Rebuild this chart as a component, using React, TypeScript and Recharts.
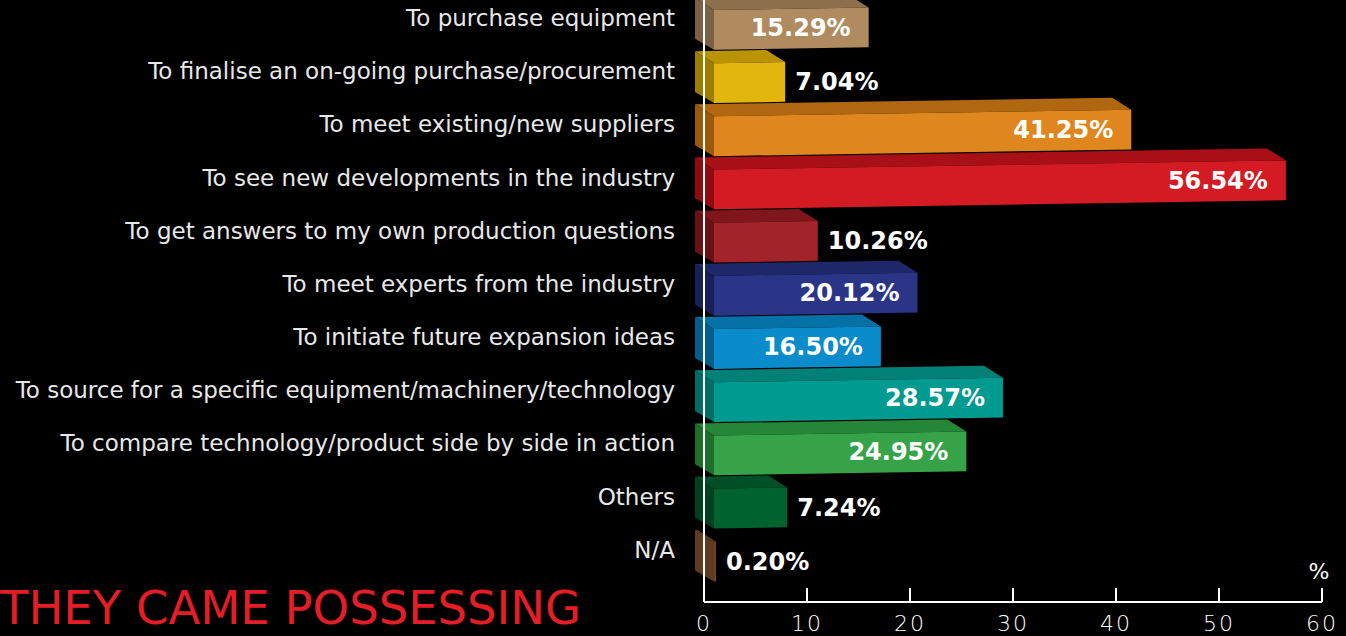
import React from 'react';
import { BarChart, Bar, XAxis, YAxis, LabelList } from 'recharts';

const categories = [
  'To purchase equipment',
  'To finalise an on-going purchase/procurement',
  'To meet existing/new suppliers',
  'To see new developments in the industry',
  'To get answers to my own production questions',
  'To meet experts from the industry',
  'To initiate future expansion ideas',
  'To source for a specific equipment/machinery/technology',
  'To compare technology/product side by side in action',
  'Others',
  'N/A',
];
const values = [15.29, 7.04, 41.25, 56.54, 10.26, 20.12, 16.5, 28.57, 24.95, 7.24, 0.2];
const frontColors = ['#b08b60', '#e3b60d', '#e0861e', '#d41b23', '#a2232a', '#2b3587', '#0a8bcb', '#009b90', '#36a348', '#00622f', '#6b4424'];
const topColors = ['#8d6f4d', '#b99400', '#b0670f', '#a90f16', '#7e161b', '#1f276b', '#0571a6', '#008077', '#248636', '#004f26', '#6b4424'];
const sideColors = ['#7a6146', '#9c7d00', '#9a590b', '#8f0b11', '#6a1115', '#191f59', '#045e8b', '#006c64', '#1c702a', '#00421f', '#5e3b1e'];
const xTicks = [0, 10, 20, 30, 40, 50, 60];

const data = categories.map((name, i) => ({ name, value: values[i], idx: i }));

const DX_BACK = 9;
const DX_FRONT = 10;
const DEPTH = 12;
const TILT = 0.016;
const WSCALE = 0.982;

const Bar3D = (props: any) => {
  const { x, y, width, height, payload } = props;
  const i = payload.idx;
  const w = Math.max(0, width * WSCALE);
  const t = w * TILT;
  const bx = x - DX_BACK;
  const fx = x + DX_FRONT;
  const bottom = y + height - 1.2;
  const ft = y + DEPTH;
  return (
    <g>
      <polygon
        points={`${bx},${y} ${bx + w},${y - t} ${fx + w},${ft - t} ${fx},${ft}`}
        fill={topColors[i]}
      />
      <polygon
        points={`${bx},${y} ${fx},${ft} ${fx},${bottom} ${bx},${bottom - DEPTH + 1}`}
        fill={sideColors[i]}
      />
      <polygon
        points={`${fx},${ft} ${fx + w},${ft - t} ${fx + w},${bottom - t} ${fx},${bottom}`}
        fill={frontColors[i]}
      />
    </g>
  );
};

const ValueLabel = (props: any) => {
  const { x, y, width, height, value } = props;
  const w = Math.max(0, width * WSCALE);
  const t = w * TILT;
  const fx = x + DX_FRONT;
  const ft = y + DEPTH;
  const bottom = y + height - 1.2;
  const cy = (ft + bottom) / 2 - t;
  const inside = value > 12;
  return (
    <text
      x={inside ? fx + w - 18 : fx + w + 10}
      y={cy + 8.5}
      textAnchor={inside ? 'end' : 'start'}
      fill="#ffffff"
      fontFamily="DejaVu Sans"
      fontWeight="bold"
      fontSize={24}
    >
      {Number(value).toFixed(2)}%
    </text>
  );
};

const CatTick = (props: any) => {
  const { x, y, payload } = props;
  return (
    <text x={x} y={y + 1.4} textAnchor="end" fill="#e8e8e8" fontFamily="DejaVu Sans" fontSize={23}>
      {payload.value}
    </text>
  );
};

const XTick = (props: any) => {
  const { x, y, payload } = props;
  return (
    <g>
      <line x1={x} y1={y - 14} x2={x} y2={y} stroke="#ffffff" strokeWidth={2} />
      <text x={x} y={y + 29} textAnchor="middle" fill="#ffffff" fontFamily="DejaVu Sans" fontWeight={200} fontSize={22} letterSpacing={2}>
        {payload.value}
      </text>
    </g>
  );
};

export default function App() {
  return (
    <div style={{ position: 'absolute', left: 0, top: 0, width: 1346, height: 636, background: '#000', overflow: 'hidden' }}>
      <div style={{ position: 'absolute', left: 0, top: -2 }}>
        <BarChart
          width={1346}
          height={638}
          data={data}
          layout="vertical"
          margin={{ top: 0, right: 24, bottom: 0, left: 0 }}
          barCategoryGap={0}
        >
          <XAxis
            type="number"
            domain={[0, 60]}
            ticks={xTicks}
            interval={0}
            axisLine={{ stroke: '#ffffff', strokeWidth: 2 }}
            tickLine={false}
            tickSize={0}
            tickMargin={0}
            tick={<XTick />}
            height={34}
          />
          <YAxis
            type="category"
            dataKey="name"
            width={704}
            interval={0}
            padding={{ top: 0, bottom: 19 }}
            axisLine={{ stroke: '#ffffff', strokeWidth: 2 }}
            tickLine={false}
            tickSize={0}
            tickMargin={29}
            tick={<CatTick />}
          />
          <Bar dataKey="value" shape={<Bar3D />} isAnimationActive={false}>
            <LabelList dataKey="value" content={<ValueLabel />} />
          </Bar>
        </BarChart>
      </div>
      <svg width={1346} height={636} style={{ position: 'absolute', left: 0, top: 0, pointerEvents: 'none' }}>
        <text x={0} y={624} fill="#e41e26" fontFamily="DejaVu Sans" fontSize={46.5}>
          THEY CAME POSSESSING
        </text>
        <text x={1319} y={579} textAnchor="middle" fill="#ffffff" fontFamily="DejaVu Sans" fontSize={22}>
          %
        </text>
      </svg>
    </div>
  );
}
